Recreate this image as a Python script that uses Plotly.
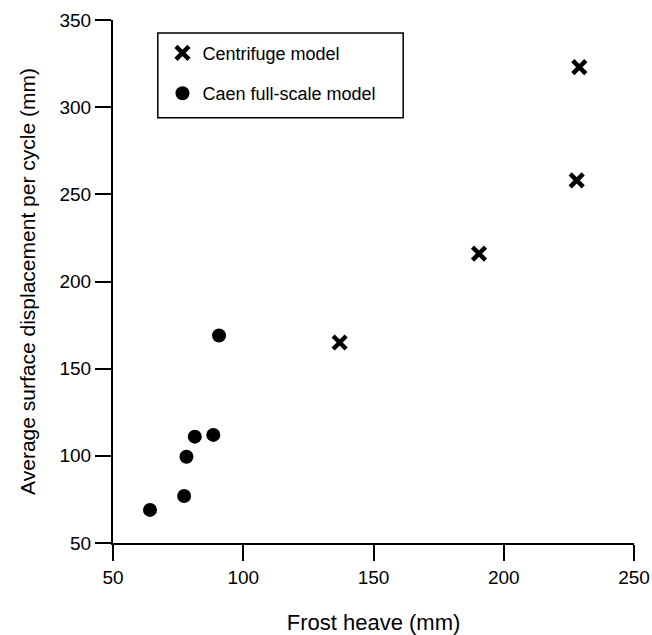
import plotly.graph_objects as go

# Data
centrifuge_x = [137, 190.5, 228, 229]
centrifuge_y = [165, 216, 258, 323]
caen_x = [64.2, 77.3, 78.2, 81.4, 88.5, 90.7]
caen_y = [69, 77, 99.5, 111, 112, 169]

x_ticks = [50, 100, 150, 200, 250]
y_ticks = [50, 100, 150, 200, 250, 300, 350]

FONT = "Arial, Liberation Sans, sans-serif"

fig = go.Figure()
fig.add_trace(go.Scatter(
    x=centrifuge_x, y=centrifuge_y, mode="markers", name="Centrifuge model",
    legendgroup="a",
    marker=dict(symbol="x-thin-open", size=13, color="black",
                line=dict(width=4.5, color="black")),
))
fig.add_trace(go.Scatter(
    x=caen_x, y=caen_y, mode="markers", name="Caen full-scale model",
    legendgroup="b",
    marker=dict(symbol="circle", size=14, color="black"),
))

axis_common = dict(
    showline=True, linecolor="black", linewidth=2,
    ticks="outside", ticklen=16, tickwidth=2, tickcolor="black",
    showgrid=False, zeroline=False, mirror=False, automargin=False,
    tickfont=dict(family=FONT, size=19, color="black"),
)

fig.update_xaxes(range=[50, 250], tickvals=x_ticks,
                 title=dict(text="Frost heave (mm)", font=dict(family=FONT, size=22, color="black"),
                            standoff=28),
                 **axis_common)
fig.update_yaxes(range=[50, 350], tickvals=y_ticks,
                 title=dict(text="Average surface displacement per cycle (mm)",
                            font=dict(family=FONT, size=21, color="black"), standoff=18),
                 **axis_common)

# legend frame (reference frame is wider than the legend content)
fig.add_shape(type="rect", xref="paper", yref="paper",
              x0=0.086, x1=0.557, y0=0.813, y1=0.975,
              line=dict(color="black", width=1.5), fillcolor="white", layer="below")

fig.update_layout(
    template="none",
    width=652, height=635,
    margin=dict(l=113, r=18, t=20, b=92, autoexpand=False),
    plot_bgcolor="white", paper_bgcolor="white",
    showlegend=True,
    legend=dict(x=0.095, y=0.972, xanchor="left", yanchor="top",
                borderwidth=0, bgcolor="rgba(0,0,0,0)",
                font=dict(family=FONT, size=18, color="black"),
                tracegroupgap=14, traceorder="grouped"),
)

# remove the browser's default 8px body margin so the figure fills the window
fig.write_html(
    "out.html",
    config={"displayModeBar": False},
    post_script="document.body.style.margin='0';document.documentElement.style.overflow='hidden';",
)
